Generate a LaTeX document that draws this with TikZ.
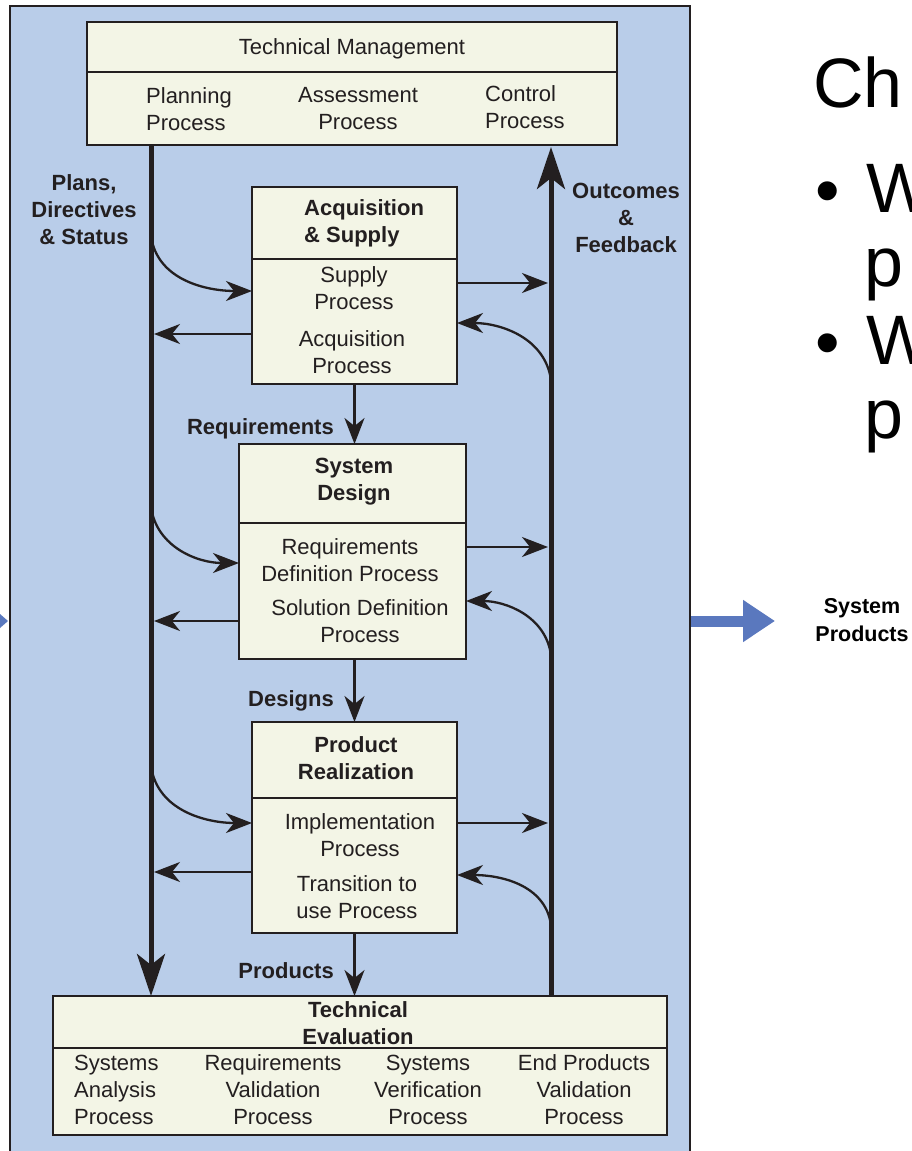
\documentclass[tikz,border=0pt]{standalone}
\usepackage{fontspec}
\setmainfont{Liberation Sans}
\usetikzlibrary{arrows.meta}
\definecolor{panelblue}{HTML}{B9CDE9}
\definecolor{boxfill}{HTML}{F3F5E6}
\definecolor{ink}{HTML}{231F20}
\definecolor{arrowblue}{HTML}{5A78BE}
\begin{document}
\begin{tikzpicture}[x=1pt,y=-1pt,
  box/.style={draw=ink, line width=2.6pt, fill=boxfill, inner sep=0pt, outer sep=0pt, anchor=north west},
  txt/.style={text=ink, font=\fontsize{22}{27}\selectfont, align=center, inner sep=0pt},
  lbl/.style={text=ink, font=\fontsize{22}{27}\selectfont\bfseries, align=center, inner sep=0pt},
  thinarrow/.style={draw=ink, line width=2.3pt, -{Stealth[length=26pt,width=20pt,inset=8pt]}},
  thickarrow/.style={draw=ink, line width=5pt, -{Stealth[length=42pt,width=28pt,inset=11pt]}},
  divider/.style={draw=ink, line width=2.6pt},
  bigtxt/.style={text=black, font=\fontsize{70}{70}\selectfont, inner sep=0pt, anchor=base west}]
\useasboundingbox (0,0) rectangle (912,1151);
\clip (0,0) rectangle (912,1151);
\fill[white] (0,0) rectangle (912,1151);

% panel
\node[box, fill=panelblue, minimum width=680pt, minimum height=1170pt] (panel) at (10,6) {};

% boxes
\node[box, minimum width=530pt, minimum height=123pt] (tm) at (87,22) {};
\draw[divider] (87,72) -- (617,72);
\node[box, minimum width=205pt, minimum height=197pt] (acq) at (252,187) {};
\draw[divider] (252,259) -- (457,259);
\node[box, minimum width=227pt, minimum height=215pt] (sd) at (239,444) {};
\draw[divider] (239,523) -- (466,523);
\node[box, minimum width=205pt, minimum height=211pt] (pr) at (252,722) {};
\draw[divider] (252,798) -- (457,798);
\node[box, minimum width=614pt, minimum height=139pt] (te) at (53,996) {};
\draw[divider] (53,1048) -- (667,1048);

% texts in Technical Management
\node[txt] (tmT) at (352,49) {Technical Management};
\node[txt, align=left, anchor=west] (tmP) at (146,109) {Planning\\Process};
\node[txt] (tmA) at (358,109) {Assessment\\Process};
\node[txt, align=left, anchor=west] (tmC) at (485,107) {Control\\Process};

% side labels
\node[lbl] (plans) at (84,210) {Plans,\\Directives\\\& Status};
\node[lbl] (outc) at (626,218) {Outcomes\\\&\\Feedback};

% Acquisition & Supply
\node[lbl, align=left, anchor=west] (acqT) at (304,223) {Acquisition\\\& Supply};
\node[txt] (acqS) at (354,288) {Supply\\Process};
\node[txt] (acqA) at (352,352) {Acquisition\\Process};

% System Design
\node[lbl] (sdT) at (354,482) {System\\Design};
\node[txt] (sdR) at (350,560) {Requirements\\Definition Process};
\node[txt] (sdS) at (360,621) {Solution Definition\\Process};

% Product Realization
\node[lbl] (prT) at (356,758) {Product\\Realization};
\node[txt] (prI) at (360,835) {Implementation\\Process};
\node[txt] (prR) at (357,897) {Transition to\\use Process};

% Technical Evaluation
\node[lbl] (teT) at (358,1023) {Technical\\Evaluation};
\node[txt, align=left, anchor=west] (te1) at (74,1090) {Systems\\Analysis\\Process};
\node[txt] (te2) at (273,1090) {Requirements\\Validation\\Process};
\node[txt] (te3) at (428,1090) {Systems\\Verification\\Process};
\node[txt] (te4) at (584,1090) {End Products\\Validation\\Process};

% flow labels
\node[lbl, anchor=east] (lreq) at (334,429) {Requirements};
\node[lbl, anchor=east] (ldes) at (334,701) {Designs};
\node[lbl, anchor=east] (lprod) at (334,971) {Products};

% coordinates on the two main lines
\coordinate (Ltop) at (151,145);
\coordinate (Lbot) at (151,996);
\coordinate (Rbot) at (551,996);
\coordinate (Rtop) at (551,147);
\coordinate (La) at (151,236);
\coordinate (Lb) at (151,507);
\coordinate (Lc) at (151,766);
\coordinate (La2) at (154,334);
\coordinate (Lb2) at (154,621);
\coordinate (Lc2) at (154,872);
\coordinate (Ra) at (548,283);
\coordinate (Rb) at (548,547);
\coordinate (Rc) at (548,823);
\coordinate (Ra2) at (551,380);
\coordinate (Rb2) at (551,655);
\coordinate (Rc2) at (551,925);

% main lines
\draw[thickarrow] (Ltop) -- (Lbot);
\draw[thickarrow] (Rbot) -- (Rtop);

% acquisition arrows
\draw[thinarrow] (La) to[out=-82,in=180] ([yshift=-104pt]acq.north west);
\draw[thinarrow] ([yshift=-147pt]acq.north west) -- (La2);
\draw[thinarrow] ([yshift=-96pt]acq.north east) -- (Ra);
\draw[thinarrow] (Ra2) to[out=98,in=0] ([yshift=-136pt]acq.north east);

% system design arrows
\draw[thinarrow] (Lb) to[out=-82,in=180] ([yshift=-119pt]sd.north west);
\draw[thinarrow] ([yshift=-177pt]sd.north west) -- (Lb2);
\draw[thinarrow] ([yshift=-103pt]sd.north east) -- (Rb);
\draw[thinarrow] (Rb2) to[out=98,in=0] ([yshift=-157pt]sd.north east);

% product realization arrows
\draw[thinarrow] (Lc) to[out=-82,in=180] ([yshift=-101pt]pr.north west);
\draw[thinarrow] ([yshift=-150pt]pr.north west) -- (Lc2);
\draw[thinarrow] ([yshift=-101pt]pr.north east) -- (Rc);
\draw[thinarrow] (Rc2) to[out=98,in=0] ([yshift=-153pt]pr.north east);

% vertical flow
\draw[thinarrow] (acq.south) -- (acq.south |- sd.north);
\draw[thinarrow] (acq.south |- sd.south) -- (acq.south |- pr.north);
\draw[thinarrow] (acq.south |- pr.south) -- (acq.south |- te.north);

% outside blue arrows
\coordinate (bout) at (775,621);
\draw[arrowblue, line width=11pt, -{Triangle[length=32pt,width=40pt]}] ([xshift=1pt]panel.east |- Lb2) -- (bout);
\fill[arrowblue] (0,614) -- (8,621) -- (0,628) -- cycle;
\node[lbl, text=black, font=\fontsize{21.5}{28}\selectfont\bfseries] (sysprod) at (862,620) {System\\Products};

% slide text at right
\node[bigtxt] (ch) at (813,107) {Ch};
\node[bigtxt] (b1) at (815,214) {•};
\node[bigtxt] (w1) at (866,212) {W};
\node[bigtxt] (p1) at (864,286) {p};
\node[bigtxt] (b2) at (815,366) {•};
\node[bigtxt] (w2) at (866,364) {W};
\node[bigtxt] (p2) at (864,438) {p};
\end{tikzpicture}
\end{document}
